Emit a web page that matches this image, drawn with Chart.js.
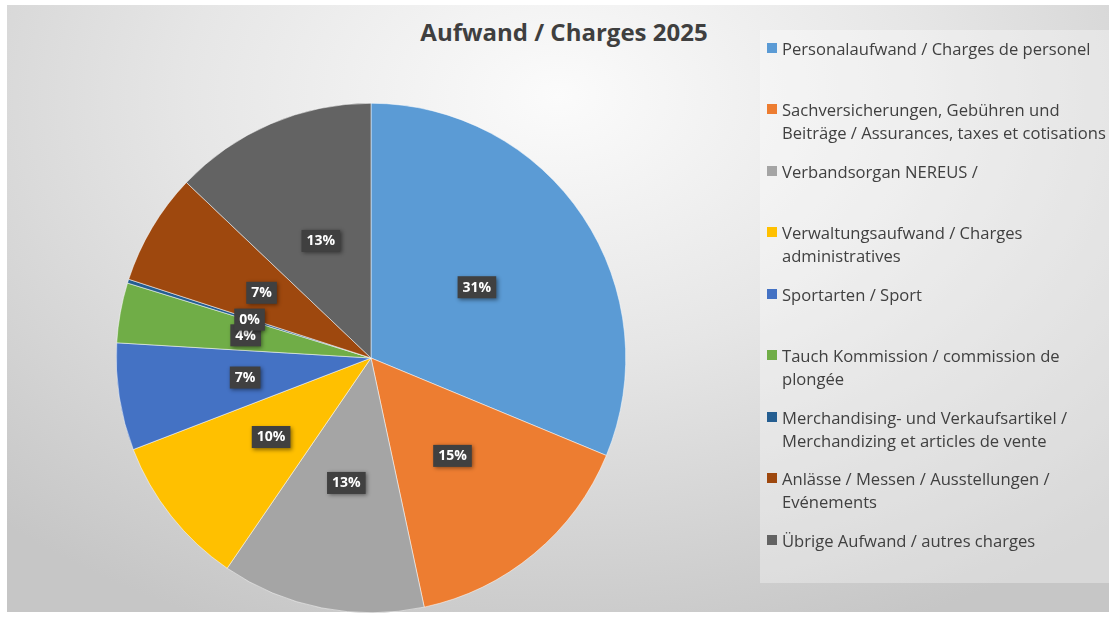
<!DOCTYPE html>
<html>
<head>
<meta charset="utf-8">
<script src="https://cdn.jsdelivr.net/npm/chart.js@4/dist/chart.umd.min.js"></script>
<style>
  html, body { margin: 0; padding: 0; background: #ffffff; }
  #wrap { position: relative; width: 1109px; height: 619px; overflow: hidden; }
  #bg { position: absolute; left: 7px; top: 5px; width: 1102px; height: 607px;
        background: radial-gradient(ellipse 75% 95% at 50% 15%, #fbfbfb 0%, #e6e6e6 45%, #c6c6c6 100%); }
  #legendPanel { position: absolute; left: 760px; top: 30px; width: 349px; height: 553px;
        background: rgba(255,255,255,0.32); }
  #title { position: absolute; left: 0; top: 15px; width: 1128px; text-align: center;
        font-family: "Open Sans", sans-serif; font-weight: bold; font-size: 24px; color: #3f3f3f; }
  canvas { position: absolute; left: 0; top: 0; }
  .lg { position: absolute; left: 767px; width: 342px; font-family: "Open Sans", sans-serif;
        font-size: 16.6px; line-height: 23px; color: #404040; white-space: pre-line; }
  .lg .m { position: absolute; left: 0; top: 6px; width: 10px; height: 10px; }
  .lg .t { position: absolute; left: 15px; top: 0; width: 340px; white-space: pre; }
</style>
</head>
<body>
<div id="wrap">
  <div id="bg"></div>
  <div id="legendPanel"></div>
  <div id="title"></div>
  <canvas id="c" width="1109" height="619"></canvas>
</div>
<script>
const chartTitle = "Aufwand / Charges 2025";
const categories = [
  "Personalaufwand / Charges de personel",
  "Sachversicherungen, Gebühren und\nBeiträge / Assurances, taxes et cotisations",
  "Verbandsorgan NEREUS /",
  "Verwaltungsaufwand / Charges\nadministratives",
  "Sportarten / Sport",
  "Tauch Kommission / commission de\nplongée",
  "Merchandising- und Verkaufsartikel /\nMerchandizing et articles de vente",
  "Anlässe / Messen / Ausstellungen /\nEvénements",
  "Übrige Aufwand / autres charges"
];
const shares = [31.25, 15.4, 12.9, 9.6, 6.8, 3.8, 0.25, 7.1, 12.9];
const colors = ["#5B9BD5", "#ED7D31", "#A5A5A5", "#FFC000", "#4472C4", "#70AD47", "#255E91", "#9E480E", "#636363"];

document.getElementById('title').textContent = chartTitle;

// HTML legend built from the data arrays
const wrap = document.getElementById('wrap');
categories.forEach((lab, i) => {
  const d = document.createElement('div');
  d.className = 'lg';
  d.style.top = (36.5 + 61.5 * i) + 'px';
  const m = document.createElement('div');
  m.className = 'm';
  m.style.background = colors[i];
  const t = document.createElement('div');
  t.className = 't';
  t.textContent = lab;
  d.appendChild(m); d.appendChild(t);
  wrap.appendChild(d);
});

const labelPlugin = {
  id: 'boxLabels',
  afterDatasetsDraw(chart) {
    const ctx = chart.ctx;
    const meta = chart.getDatasetMeta(0);
    const data = chart.data.datasets[0].data;
    const total = data.reduce((a, b) => a + b, 0);
    ctx.save();
    ctx.font = 'bold 14px "Open Sans", sans-serif';
    ctx.textAlign = 'center';
    ctx.textBaseline = 'middle';
    meta.data.forEach((arc, i) => {
      const p = arc.getProps(['x', 'y', 'startAngle', 'endAngle', 'outerRadius'], true);
      const mid = (p.startAngle + p.endAngle) / 2;
      const r = p.outerRadius * 0.5;
      const x = p.x + Math.cos(mid) * r;
      const y = p.y + Math.sin(mid) * r;
      const txt = Math.round(data[i] / total * 100) + '%';
      const w = ctx.measureText(txt).width + 10;
      const h = 22;
      ctx.save();
      ctx.shadowColor = 'rgba(0,0,0,0.45)';
      ctx.shadowBlur = 4;
      ctx.shadowOffsetX = 1.5;
      ctx.shadowOffsetY = 1.5;
      ctx.fillStyle = '#404040';
      ctx.fillRect(x - w / 2, y - h / 2, w, h);
      ctx.restore();
      ctx.fillStyle = '#ffffff';
      ctx.fillText(txt, x, y + 0.5);
    });
    ctx.restore();
  }
};

new Chart(document.getElementById('c'), {
  type: 'pie',
  data: {
    labels: categories,
    datasets: [{
      data: shares,
      backgroundColor: colors,
      borderColor: '#ffffff',
      borderWidth: 0.5,
      hoverOffset: 0
    }]
  },
  options: {
    responsive: false,
    animation: false,
    events: [],
    layout: { padding: { left: 116, top: 103, right: 483, bottom: 6 } },
    plugins: {
      legend: { display: false },
      title: { display: false },
      tooltip: { enabled: false }
    }
  },
  plugins: [labelPlugin]
});
</script>
</body>
</html>
